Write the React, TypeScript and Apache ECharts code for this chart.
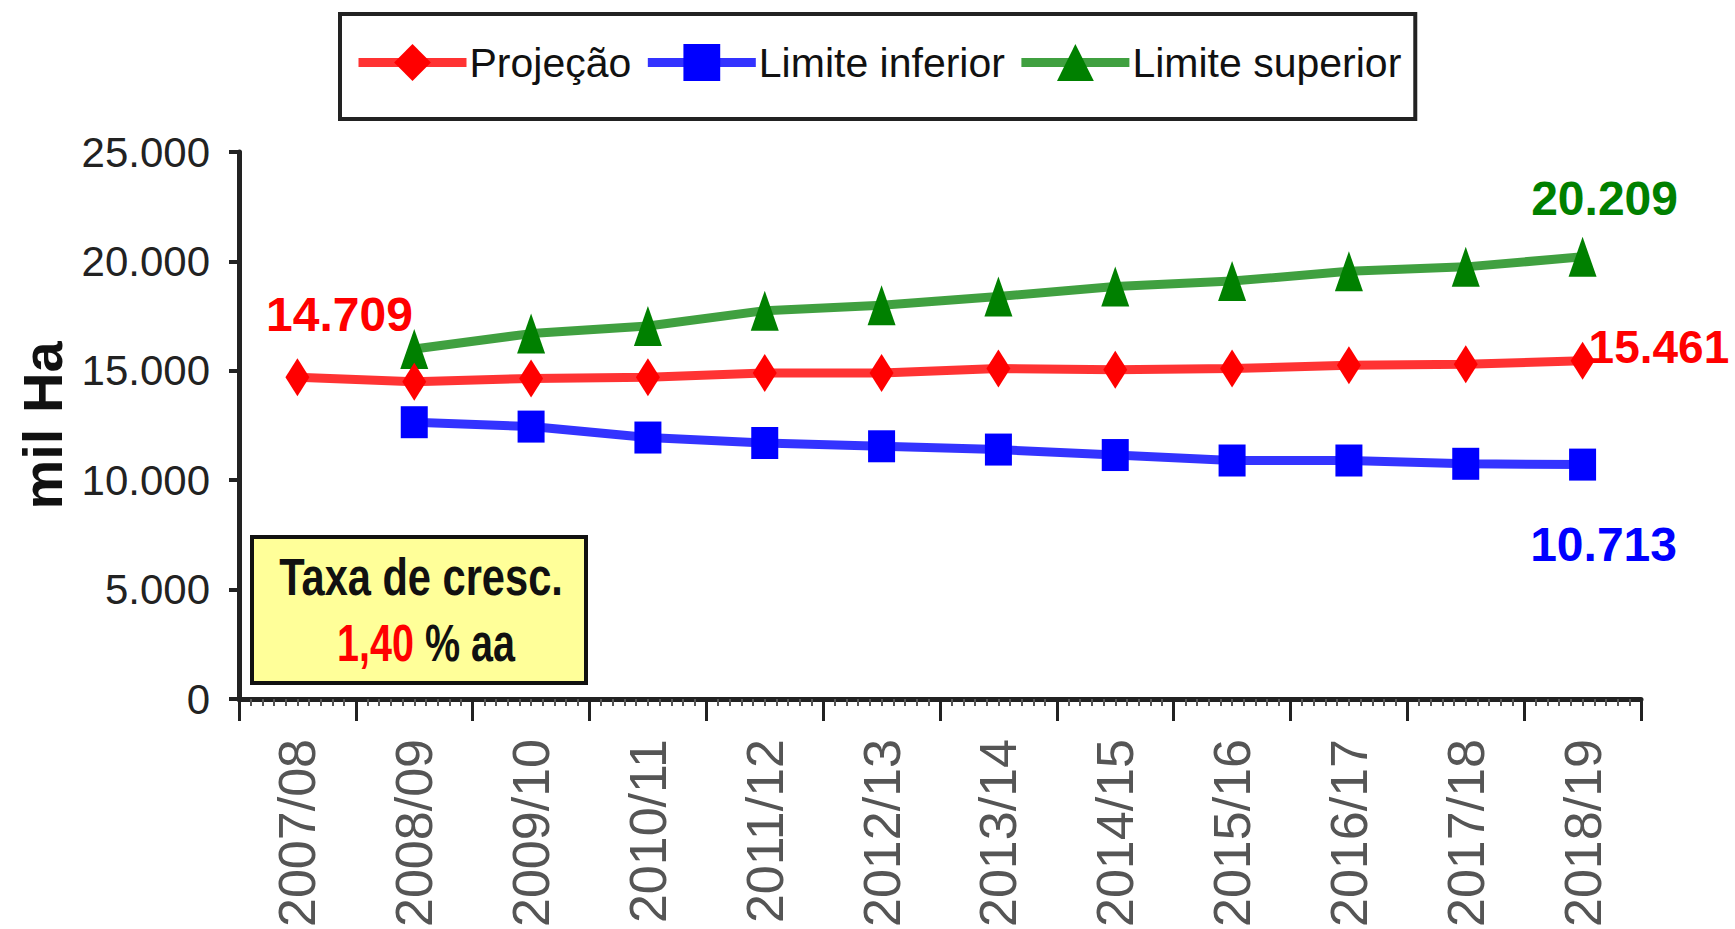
import React, { useEffect, useRef } from "react";
import * as echarts from "echarts";

const categories = [
  "2007/08", "2008/09", "2009/10", "2010/11", "2011/12", "2012/13",
  "2013/14", "2014/15", "2015/16", "2016/17", "2017/18", "2018/19",
];
const projecao = [14709, 14500, 14650, 14700, 14900, 14900, 15100, 15050, 15100, 15250, 15300, 15461];
// Limits start in 2008/09
const limiteInferior = [12650, 12450, 11950, 11700, 11550, 11400, 11150, 10900, 10900, 10750, 10713];
const limiteSuperior = [16000, 16700, 17050, 17750, 18000, 18400, 18850, 19100, 19550, 19750, 20209];
const yTicks = [0, 5000, 10000, 15000, 20000, 25000];
const taxaCrescimento = "1,40";

const SANS = "'Liberation Sans', Arial, sans-serif";

const fmt = (v: number) => (v === 0 ? "0" : v.toLocaleString("de-DE"));

export default function App() {
  const ref = useRef<HTMLDivElement>(null);
  useEffect(() => {
    if (!ref.current) return;
    const chart = echarts.init(ref.current, undefined, { renderer: "svg" });
    const last = categories.length - 1;
    const lblBase = { show: true, fontFamily: SANS, fontWeight: "bold" as const, fontSize: 48 };

    const projData = projecao.map((v, i) => {
      if (i === 0) return { value: v, label: { ...lblBase, color: "#ff0000", position: "top", distance: 20, offset: [42, 0], formatter: fmt(v) } };
      if (i === last) return { value: v, label: { ...lblBase, fontSize: 46, color: "#ff0000", position: "right", distance: -6, offset: [0, -14], formatter: fmt(v) } };
      return v;
    });
    const infData = [null as any, ...limiteInferior].map((v, i) =>
      i === last ? { value: v, label: { ...lblBase, color: "#0000ff", position: "bottom", distance: 40, offset: [21, 0], formatter: fmt(v) } } : v
    );
    const supData = [null as any, ...limiteSuperior].map((v, i) =>
      i === last ? { value: v, label: { ...lblBase, color: "#008000", position: "top", distance: 14, offset: [22, 0], formatter: fmt(v) } } : v
    );

    chart.setOption({
      animation: false,
      backgroundColor: "#ffffff",
      legend: {
        left: 340,
        top: 14,
        padding: [28, 14, 36, 14],
        itemGap: 12,
        itemWidth: 108,
        itemHeight: 46,
        borderColor: "#222",
        borderWidth: 4,
        backgroundColor: "#fff",
        lineStyle: { width: 9 },
        textStyle: { fontFamily: SANS, fontSize: 41, color: "#111", padding: [0, 0, 0, -2] },
        data: ["Projeção", "Limite inferior", "Limite superior"],
      },
      grid: { left: 239, right: 94, top: 152, bottom: 230, containLabel: false, outerBoundsMode: "none" },
      xAxis: [
        {
          type: "category",
          data: categories,
          boundaryGap: true,
          axisLine: { lineStyle: { color: "#222", width: 5 } },
          axisTick: { show: true, length: 22, lineStyle: { color: "#222", width: 3 } },
          axisLabel: { rotate: 90, margin: 40, fontFamily: SANS, fontSize: 52, color: "#555", interval: 0 },
        },
        {
          type: "value",
          min: 0,
          max: 12,
          interval: 1,
          position: "bottom",
          axisLine: { show: false },
          axisTick: { show: false },
          axisLabel: { show: false },
          splitLine: { show: false },
          minorTick: { show: true, splitNumber: 10, length: 7, lineStyle: { color: "#555", width: 2 } },
          minorSplitLine: { show: false },
        },
      ],
      yAxis: {
        type: "value",
        min: 0,
        max: 25000,
        interval: 5000,
        name: "mil Ha",
        nameLocation: "middle",
        nameGap: 168,
        nameRotate: 90,
        nameTextStyle: { fontFamily: SANS, fontWeight: "bold", fontSize: 56, color: "#111" },
        axisLine: { show: true, lineStyle: { color: "#222", width: 5 } },
        axisTick: { show: true, length: 10, lineStyle: { color: "#222", width: 4 } },
        splitLine: { show: false },
        axisLabel: {
          margin: 29,
          fontFamily: SANS,
          fontSize: 42,
          color: "#222",
          formatter: (v: number) => (yTicks.includes(v) ? fmt(v) : ""),
        },
      },
      series: [
        {
          name: "Projeção",
          type: "line",
          data: projData,
          symbol: "diamond",
          symbolSize: [24, 38],
          lineStyle: { color: "#ff0000", width: 9, opacity: 0.8 },
          itemStyle: { color: "#ff0000" },
          z: 3,
        },
        {
          name: "Limite inferior",
          type: "line",
          data: infData,
          symbol: "rect",
          symbolSize: [27, 32],
          lineStyle: { color: "#0000ff", width: 9, opacity: 0.8 },
          itemStyle: { color: "#0000ff" },
          z: 2,
        },
        {
          name: "Limite superior",
          type: "line",
          data: supData,
          symbol: "triangle",
          symbolSize: [28, 40],
          lineStyle: { color: "#008000", width: 9, opacity: 0.75 },
          itemStyle: { color: "#008000" },
          z: 2,
        },
      ],
      graphic: [
        {
          type: "rect",
          shape: { x: 252, y: 537, width: 334, height: 146 },
          style: { fill: "#ffff99", stroke: "#111", lineWidth: 4 },
          z: 10,
        },
        {
          type: "text",
          x: 421,
          y: 577,
          scaleX: 0.8,
          style: {
            text: "Taxa de cresc.",
            fontFamily: SANS,
            fontWeight: "bold",
            fontSize: 52,
            fill: "#111",
            align: "center",
            verticalAlign: "middle",
          },
          z: 11,
        },
        {
          type: "text",
          x: 426,
          y: 643,
          scaleX: 0.76,
          style: {
            text: `{r|${taxaCrescimento}}{k| % aa}`,
            align: "center",
            verticalAlign: "middle",
            rich: {
              r: { fontFamily: SANS, fontWeight: "bold", fontSize: 52, fill: "#ff0000", color: "#ff0000" },
              k: { fontFamily: SANS, fontWeight: "bold", fontSize: 52, fill: "#111", color: "#111" },
            },
          },
          z: 11,
        },
      ],
    });
    return () => chart.dispose();
  }, []);
  return <div ref={ref} style={{ position: "fixed", left: 0, top: 0, width: 1735, height: 929 }} />;
}
